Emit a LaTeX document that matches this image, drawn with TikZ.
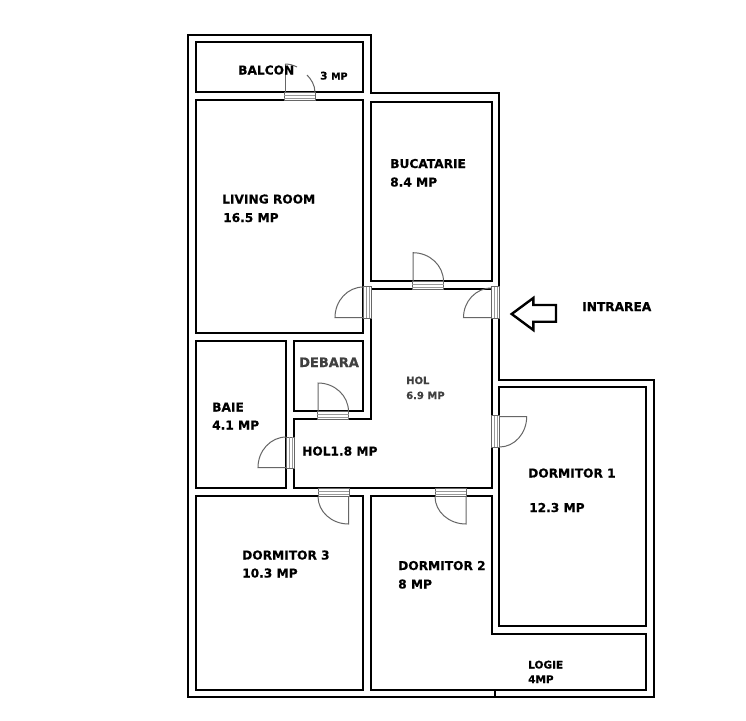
\documentclass[tikz,border=0pt]{standalone}
\usepackage{fontspec}
\setmainfont[BoldFeatures={FakeBold=0.5}]{DejaVu Sans}
\usetikzlibrary{calc}
\newcommand{\doorswing}[4][]{%
  \draw[doorline,#1] (#2) -- (#3) .. controls ($(#3)+0.5523*(#4)-0.5523*(#2)$) and ($(#4)+0.5523*(#3)-0.5523*(#2)$) .. (#4);}
\newcommand{\sillh}[3]{% x1 x2 ytop(+8)
  \draw[doorline,fill=white] (#1,#3) rectangle (#2,#3+8);
  \draw[doormid] (#1,#3+3) -- (#2,#3+3) (#1,#3+5.5) -- (#2,#3+5.5);}
\newcommand{\sillv}[3]{% y1 y2 xleft(+8)
  \draw[doorline,fill=white] (#3,#1) rectangle (#3+8,#2);
  \draw[doormid] (#3+3,#1) -- (#3+3,#2) (#3+5.5,#1) -- (#3+5.5,#2);}
\tikzset{
  wall/.style={draw=black,line width=2pt,line join=miter},
  doorline/.style={draw=black!60,line width=1pt},
  doormid/.style={draw=black!40,line width=0.6pt},
  lab/.style={anchor=base west,inner sep=0pt,font=\bfseries\fontsize{12.2}{14}\selectfont,text=black},
  labdark/.style={lab,text=black!75},
  labsmall/.style={lab,font=\bfseries\fontsize{10.5}{12}\selectfont},
}
\begin{document}
\begin{tikzpicture}[x=1pt,y=-1pt]
\useasboundingbox (0,0) rectangle (746,720);
\fill[white] (0,0) rectangle (746,720);
% outer wall
\draw[wall] (188,35) -- (370.7,35) -- (370.7,93) -- (499,93) -- (499,379.5) -- (654,379.5) -- (654,697) -- (188,697) -- cycle;
% rooms
\draw[wall] (195.7,42.3) rectangle (363,91.7);
\draw[wall] (195.7,100) rectangle (363,333);
\draw[wall] (370.7,101.7) rectangle (491.7,281);
\draw[wall] (195.7,341) rectangle (286.3,488);
\draw[wall] (294,341) rectangle (363.3,411);
\draw[wall] (370.7,289) -- (491.7,289) -- (491.7,488) -- (294,488) -- (294,419) -- (370.7,419) -- cycle;
\draw[wall] (195.7,496) rectangle (363,690);
\draw[wall] (370.7,496) -- (491.7,496) -- (491.7,634.3) -- (646,634.3) -- (646,690) -- (370.7,690) -- cycle;
\draw[wall] (499,387.3) rectangle (646,626);
\draw[black,line width=1.4pt] (495,690) -- (495,697);
% sills
\sillh{284}{315}{92.5}
\sillh{412.3}{443.7}{281.5}
\sillh{317.3}{348.7}{411.5}
\sillh{318}{349}{488.5}
\sillh{435}{466}{488.5}
\sillv{286.7}{318}{363.3}
\sillv{286.7}{318}{491.5}
\sillv{437}{468}{286.3}
\sillv{415.7}{447}{491.5}
% door leaves and swings
\coordinate (d1h) at (285,92.5); \coordinate (d1a) at (285,64); \coordinate (d1b) at (315,92.5);
\draw[doorline] (d1h) -- (d1a);
\draw[doorline] (d1a) .. controls (289,64) and (293,65) .. (297,67);
\draw[doorline] (307,75) .. controls (311,79) and (315,85) .. (d1b);
\coordinate (d2h) at (413,281.5); \coordinate (d2a) at (413,252.7); \coordinate (d2b) at (443.5,281.5);
\doorswing{d2h}{d2a}{d2b}
\coordinate (d3h) at (363.3,317.5); \coordinate (d3a) at (335,317.5); \coordinate (d3b) at (363.3,287);
\doorswing{d3h}{d3a}{d3b}
\coordinate (d4h) at (491.5,317.5); \coordinate (d4a) at (463.5,317.5); \coordinate (d4b) at (491.5,288);
\doorswing{d4h}{d4a}{d4b}
\coordinate (d5h) at (318,411.5); \coordinate (d5a) at (318,383); \coordinate (d5b) at (348.5,411.5);
\doorswing{d5h}{d5a}{d5b}
\coordinate (d6h) at (286.3,467.5); \coordinate (d6a) at (258,467.5); \coordinate (d6b) at (286.3,437);
\doorswing{d6h}{d6a}{d6b}
\coordinate (d7h) at (499.5,416.5); \coordinate (d7a) at (526.7,416.5); \coordinate (d7b) at (499.5,447);
\doorswing{d7h}{d7a}{d7b}
\coordinate (d8h) at (348.5,496.5); \coordinate (d8a) at (348.5,524); \coordinate (d8b) at (318,496.5);
\doorswing{d8h}{d8a}{d8b}
\coordinate (d9h) at (466,496.5); \coordinate (d9a) at (466,524); \coordinate (d9b) at (435,496.5);
\doorswing{d9h}{d9a}{d9b}
% entrance arrow
\draw[line width=2.4pt,line join=miter,draw=black] (511.7,314) -- (533.3,298) -- (533.3,305) -- (556,305) -- (556,321.7) -- (533.3,321.7) -- (533.3,330) -- cycle;
% labels
\node[lab] (balcon) at (238,74.5) {BALCON};
\node[labsmall] (balconmp) at (320,79.5) {3 \fontsize{9.5}{11}\selectfont MP};
\node[lab] (living) at (222,203.5) {LIVING ROOM};
\node[lab] (livingmp) at (223,222) {16.5 MP};
\node[lab] (buc) at (390,168) {BUCATARIE};
\node[lab] (bucmp) at (390,186.5) {8.4 MP};
\node[labdark,font=\bfseries\fontsize{13}{15}\selectfont] (debara) at (299,367) {DEBARA};
\node[labsmall,font=\bfseries\fontsize{10}{12}\selectfont,text=black!75] (hol) at (406,384) {HOL};
\node[labsmall,font=\bfseries\fontsize{10}{12}\selectfont,text=black!75] (holmp) at (406,399) {6.9 MP};
\node[lab] (baie) at (212,411.5) {BAIE};
\node[lab] (baiemp) at (212,429.5) {4.1 MP};
\node[lab] (holb) at (302,455.5) {HOL1.8 MP};
\node[lab] (d1) at (528,477.5) {DORMITOR 1};
\node[lab] (d1mp) at (529,512) {12.3 MP};
\node[lab] (d3) at (242,559.5) {DORMITOR 3};
\node[lab] (d3mp) at (242,577.5) {10.3 MP};
\node[lab] (d2) at (398,570) {DORMITOR 2};
\node[lab] (d2mp) at (398,588.5) {8 MP};
\node[labsmall] (logie) at (528,668.5) {LOGIE};
\node[labsmall] (logiemp) at (528,683) {4MP};
\node[lab] (intrarea) at (582,311) {INTRAREA};
\end{tikzpicture}
\end{document}
